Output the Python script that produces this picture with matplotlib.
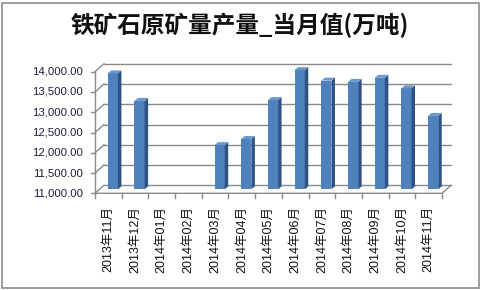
import matplotlib
matplotlib.use("Agg")
import matplotlib.pyplot as plt
from matplotlib.patches import Polygon, Rectangle
import numpy as np

plt.rcParams['font.family'] = ['Noto Sans CJK SC', 'DejaVu Sans']

categories = ["2013年11月", "2013年12月", "2014年01月", "2014年02月", "2014年03月",
              "2014年04月", "2014年05月", "2014年06月", "2014年07月", "2014年08月",
              "2014年09月", "2014年10月", "2014年11月"]
values = [13860, 13180, None, None, 12090, 12240, 13200, 13940, 13680, 13650, 13750, 13490, 12810]
yticks = [11000, 11500, 12000, 12500, 13000, 13500, 14000]
title = "铁矿石原矿量产量_当月值(万吨)"

W, H = 482, 290
fig = plt.figure(figsize=(W / 100, H / 100), dpi=100)
fig.patch.set_facecolor("white")
fig.add_artist(Rectangle((2 / W, 2 / H), 477 / W, 285 / H, transform=fig.transFigure,
                         fill=False, edgecolor="#8c8c8c", lw=1.2))

# front plane of the plot area
left, right, bottom, top = 95, 442, 193.3, 71.7
ax = fig.add_axes([left / W, 1 - bottom / H, (right - left) / W, (bottom - top) / H])
n = len(categories)
ymin, ymax = yticks[0], yticks[-1]
ax.set_xlim(-0.5, n - 0.5)
ax.set_ylim(ymin, ymax)
ax.axis("off")

px_x = (n) / (right - left)            # data units per pixel (x)
px_y = (ymax - ymin) / (bottom - top)  # data units per pixel (y)

# depth of the 3D box
dx, dy = 9 * px_x, 8 * px_y
grid_c = "#8a8a8a"
x0, x1 = -0.5, n - 0.5

# back-wall gridlines + side-wall slants
for t in yticks:
    ax.plot([x0 + dx, x1 + dx], [t + dy, t + dy], color=grid_c, lw=1, clip_on=False, zorder=1)
    ax.plot([x0, x0 + dx], [t, t + dy], color=grid_c, lw=1, clip_on=False, zorder=1)
    ax.plot([x0 - 4 * px_x, x0], [t, t], color=grid_c, lw=1, clip_on=False, zorder=1)
# floor
ax.plot([x0, x1, x1 + dx], [ymin, ymin, ymin + dy], color=grid_c, lw=1, clip_on=False, zorder=1)
# left axis front line
ax.plot([x0, x0], [ymin, ymax], color=grid_c, lw=1, clip_on=False, zorder=1)
# category tick marks
for i in range(n + 1):
    xb = x0 + i
    ax.plot([xb, xb], [ymin, ymin - 5 * px_y], color=grid_c, lw=1, clip_on=False, zorder=1)

# bars (3D look)
front_c, side_c, top_c = "#4F81BD", "#2E5286", "#6B97CF"
bw = 0.38
sx, sy = dx / 2, dy / 2
bdx, bdy = 3.5 * px_x, 3 * px_y
xs = np.arange(n)
for i, v in enumerate(values):
    if v is None:
        continue
    xl = xs[i] - bw / 2 + sx
    xr = xs[i] + bw / 2 + sx
    yb = ymin + sy
    yt = v + sy
    ax.bar(xs[i] + sx, v - ymin, width=bw, bottom=yb, color=front_c, edgecolor="none",
           zorder=3, clip_on=False)
    ax.add_patch(Polygon([(xr, yb), (xr, yt), (xr + bdx, yt + bdy), (xr + bdx, yb + bdy)],
                         closed=True, facecolor=side_c, edgecolor="none", zorder=3, clip_on=False))
    ax.add_patch(Polygon([(xl, yt), (xr, yt), (xr + bdx, yt + bdy), (xl + bdx, yt + bdy)],
                         closed=True, facecolor=top_c, edgecolor="none", zorder=3, clip_on=False))

# y tick labels
for t in yticks:
    ax.text(x0 - 12 * px_x, t, f"{t:,.2f}", ha="right", va="center", fontsize=8.2,
            family=["Liberation Sans", "DejaVu Sans"], color="#1f1f3f", clip_on=False)

# x tick labels
for i, c in enumerate(categories):
    ax.text(xs[i], ymin - 13 * px_y, c, rotation=90, ha="center", va="top", fontsize=9,
            family=["Liberation Sans", "Noto Sans CJK SC"], color="#111111", clip_on=False)

fig.text(240 / W, 1 - 25 / H, title, ha="center", va="center", fontsize=17,
         fontweight="bold", color="#111111")

fig.savefig("out.png", dpi=100, facecolor="white")
